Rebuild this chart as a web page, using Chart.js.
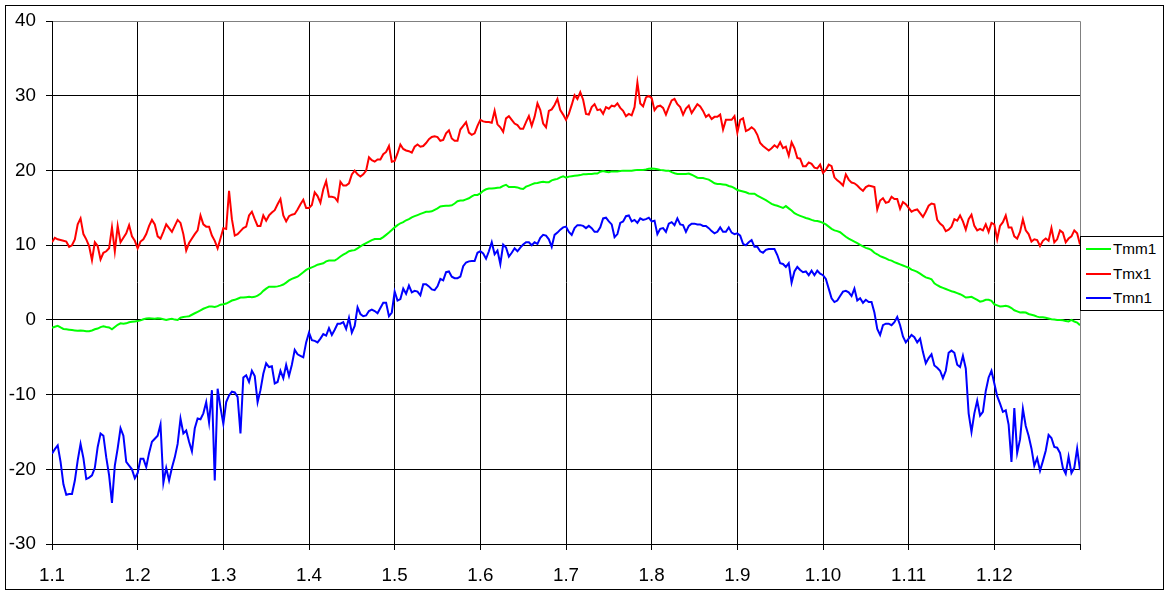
<!DOCTYPE html>
<html><head><meta charset="utf-8">
<script src="https://cdn.jsdelivr.net/npm/chart.js@4.4.1/dist/chart.umd.min.js"></script>
<style>
html,body{margin:0;padding:0;background:#fff;}
#wrap{position:relative;width:1169px;height:594px;overflow:hidden;background:#fff;}
#c{position:absolute;left:0;top:0;}
#legend{position:absolute;left:1080px;top:236px;width:82px;height:73px;border:1px solid #000;background:#fff;font-family:"Liberation Sans",Arial,sans-serif;font-size:15.3px;color:#000;}
.item{position:absolute;left:0;height:20px;width:82px;}
.item .ln{position:absolute;left:5px;width:25px;height:2px;top:9px;}
.item .tx{position:absolute;left:32px;top:0;line-height:20px;white-space:nowrap;}
</style></head>
<body><div id="wrap"><canvas id="c" width="1169" height="594"></canvas><div id="legend"></div></div>
<script>
// x tick labels (every 30 days)
const xTickLabels = ['1.1','1.2','1.3','1.4','1.5','1.6','1.7','1.8','1.9','1.10','1.11','1.12'];
const yTicks = [-30,-20,-10,0,10,20,30,40];
const seriesNames = ['Tmm1','Tmx1','Tmn1'];
const seriesColors = ['#00FF00','#FF0000','#0000FF'];

const Tmm1 = [
-1.05,-0.9,-0.78,-1,-1.2,-1.25,-1.3,-1.35,-1.4,-1.45,
-1.4,-1.45,-1.5,-1.5,-1.4,-1.25,-1.15,-0.95,-0.85,-0.95,
-1.0,-1.25,-0.95,-0.65,-0.45,-0.5,-0.45,-0.3,-0.25,-0.2,
-0.15,-0.05,0.1,0.2,0.22,0.2,0.18,0.22,0.2,0.1,
0,0.1,0.15,0.05,0,0.3,0.4,0.45,0.5,0.7,
0.9,1.1,1.3,1.5,1.65,1.8,1.8,1.75,1.85,2.05,
2.1,2.2,2.4,2.6,2.7,2.85,3.0,3.0,3.05,3.1,
3.05,3.1,3.25,3.5,3.9,4.2,4.45,4.45,4.45,4.5,
4.6,4.75,5.0,5.3,5.5,5.65,5.8,6.1,6.4,6.7,
6.9,7.05,7.2,7.4,7.5,7.6,7.85,7.95,7.95,7.95,
8.2,8.5,8.75,8.95,9.2,9.3,9.35,9.6,9.85,10.1,
10.3,10.5,10.7,10.85,10.85,10.85,11.1,11.4,11.7,12.05,
12.4,12.7,12.95,13.1,13.35,13.5,13.75,13.9,14.05,14.2,
14.35,14.5,14.5,14.55,14.75,14.95,15.2,15.25,15.3,15.3,
15.35,15.6,15.9,16.0,16.0,16.15,16.3,16.55,16.75,16.75,
16.95,17.3,17.5,17.6,17.6,17.65,17.7,17.75,17.95,18.1,
17.8,17.8,17.8,17.75,17.6,17.55,17.85,18.0,18.15,18.3,
18.35,18.45,18.5,18.45,18.45,18.7,18.8,18.9,19.1,19.25,
19.05,19.2,19.25,19.3,19.35,19.4,19.5,19.5,19.55,19.55,
19.6,19.6,19.85,19.95,19.85,19.8,19.9,19.9,19.9,19.95,
20,20,20,20,20.05,20.1,20.1,20.1,20.15,20.25,
20.3,20.25,20.2,20.1,20.05,20,20,19.8,19.65,19.55,
19.55,19.55,19.55,19.6,19.45,19.25,19.05,19,19,18.9,
18.8,18.55,18.3,18.2,18.2,18.15,18.1,17.95,17.85,17.65,
17.4,17.3,17.2,17.1,16.95,16.9,16.9,16.65,16.45,16.25,
16.05,15.8,15.55,15.4,15.3,15.15,15.0,15.25,14.95,14.65,
14.3,14.1,13.95,13.8,13.65,13.55,13.4,13.3,13.25,13.15,
13.0,12.8,12.5,12.2,12.0,11.9,11.75,11.45,11.15,10.9,
10.7,10.5,10.3,10.05,9.85,9.65,9.55,9.35,9.0,8.8,
8.55,8.4,8.25,8.05,7.95,7.75,7.6,7.45,7.3,7.15,
7.0,6.75,6.6,6.45,6.2,5.95,5.7,5.6,5.45,4.9,
4.65,4.45,4.3,4.15,4.0,3.85,3.75,3.6,3.45,3.25,
3.0,3.05,3.1,2.9,2.7,2.45,2.55,2.7,2.7,2.55,
2.1,1.95,1.8,1.85,1.9,1.8,1.6,1.3,1.15,1.0,
1.05,1.0,0.8,0.7,0.6,0.45,0.35,0.35,0.3,0.2,
0.1,0.05,0.0,0.0,-0.05,-0.15,-0.2,0.0,-0.2,-0.35,
-0.7];

const Tmx1 = [
10.4,11,10.8,10.7,10.6,10.5,9.8,10,10.8,12.8,
13.6,11.5,10.8,9.9,8,10.4,9.9,8.1,9,9.2,
9.6,12.4,9.2,12.6,10.4,11,11.6,12.7,11.2,10.6,
9.6,10.5,10.8,11.5,12.6,13.4,12.8,11.2,10.9,11.8,
12.8,12.3,11.8,12.6,13.4,13,11.5,9.3,10.3,10.9,
11.5,12,14,12.8,12.5,12.5,11.3,10.6,9.6,10.9,
12.3,12.2,17.3,13.5,11.3,11.5,11.9,12.3,12.5,14,
14.5,13.5,12.6,12.6,14,13.3,14,14.4,14.7,15.5,
16.2,14,13.2,13.9,14.1,14.2,14.8,15.5,16.1,15,
15,15.4,17.1,16.6,15.7,17.5,18.6,16.5,16.5,16.4,
15.9,18.5,18,18,18.3,19.5,20,19.5,19.2,19.5,
20,21.8,21.4,21.2,21.5,21.5,22.2,22.5,23.3,21.2,
21.3,22.3,23.5,22.9,22.7,22.6,22.4,23.2,23.5,23.2,
23.3,23.7,24.2,24.5,24.6,24.5,24,24.1,25,25.4,
24.3,24,24,25.5,26,26.5,25.1,24.8,25,26,
26.8,26.6,26.5,26.5,26.4,28,26.2,25.8,25.2,27,
27.3,26.8,26.3,26.1,25.6,25.6,26.5,27.3,26,27.2,
29,28.1,26.3,25.8,28,28.2,28.8,29.6,28.1,27.5,
26.8,27.6,28.8,30.1,29.6,30.5,29.5,27.6,27.5,28.5,
28.9,28.1,28.2,27.6,28.5,28.3,28.7,28.6,29,28.4,
28,27.3,27.6,27.4,28.5,31.8,29,28.6,29.8,30,
29.7,28.1,28.6,28.7,28.4,27.5,28.5,29.4,29.6,28.9,
28.5,27.5,28.3,28.7,27.7,28.3,28.9,28.6,28,27.2,
27.5,26.9,27.2,27.2,27.5,25.5,26.8,26.8,26.8,27.3,
25.1,26.8,27,25.3,25.5,25.8,25.5,24.8,23.7,23.3,
23,22.7,23,23.4,23.1,23.8,23,23.2,22,23.8,
23,21.7,21.6,20.6,20.6,21.1,20.9,20.4,20.3,20.8,
19.7,20.1,20.8,20.6,19.1,18.7,18.4,18,19.5,18.8,
18.4,18.3,18,17.6,17.3,17.8,18,17.9,17.8,14.8,
16,16.3,15.7,15.8,16.5,16.2,16.2,14.9,15.8,15.5,
15,14.5,14.7,14.8,14.3,13.8,14.5,15.3,15.6,15.5,
13.4,12.9,12.6,11.9,12.1,12.5,13.5,13.3,14,13.2,
12.1,13.5,14.1,12.6,12,12.2,12,12.8,11.8,13,
12.8,10.8,12.6,13.1,14,12.4,12.4,11.2,10.9,11.8,
13.5,12,11.5,10.5,10.8,10.7,9.9,10.6,10.9,10.6,
12.3,10.4,10.8,12,11.7,10.4,10.9,11.2,12,11.6,
10.1];

const Tmn1 = [
-17.9,-17.3,-16.8,-19,-22,-23.4,-23.3,-23.3,-21.5,-18.8,
-16.6,-18.5,-21.3,-21.1,-20.8,-19.8,-17,-15.2,-15.5,-18.4,
-20.8,-24.5,-19.5,-17.2,-14.5,-15.5,-19,-19.5,-20,-21.2,
-20.5,-18.6,-18.6,-19.7,-17.8,-16.3,-15.9,-15.5,-14,-21.8,
-19.8,-21.5,-19.8,-18.4,-16.6,-13.2,-15.2,-14.8,-16.3,-17.6,
-14.5,-13.2,-13.3,-12.5,-11,-13.7,-9.4,-21.5,-9.2,-11.7,
-13.9,-11,-10.1,-9.6,-9.7,-10.3,-15.2,-7.7,-7.4,-8.3,
-6.8,-7.5,-11,-9.4,-7.2,-5.8,-6.3,-6.2,-8.5,-8.3,
-6.8,-7.8,-6,-7.5,-6,-4,-4.6,-4.8,-5,-3,
-1.7,-2.7,-2.8,-3,-2.5,-1.9,-2.1,-1.1,-2,-1.3,
-0.5,-0.5,-0.3,-1.2,0.3,-1.7,-0.8,1.7,0.8,0.5,
0.6,1.2,1.4,1.2,0.9,1.6,2.3,2.3,0.5,1.0,
3.8,2.6,2.8,4.2,3.5,4.6,3.7,3.9,3.8,3.3,
4.8,4.8,4.5,4.1,4.0,4.5,5.5,5.3,6.4,6.5,
5.8,5.6,5.6,5.8,7.2,7.7,7.85,7.9,7.9,9,
9.2,8.9,8.2,9.2,10.4,8.8,9.3,7.5,10.1,9.7,
8.5,9,9.6,9.2,9.7,10.1,10.4,10.4,10,10.4,
10.2,11,11.4,11.3,10.8,9.8,11.4,11.7,12.1,12.4,
12.5,11.8,11.4,12.3,12.7,12.7,12.6,12.3,12.6,12.3,
11.8,11.8,12.4,13.6,13.7,13.2,12.8,11.1,11.5,13,
13.2,13.9,14,13.2,13.4,13,13.6,13.4,13.5,13.7,
13.2,13.3,11.5,12.2,12.3,11.8,12.9,13.1,12.7,13.6,
12.8,12.7,11.8,12.6,12.9,12.9,12.8,12.8,12.6,12.6,
12.3,11.9,11.6,11.8,12.4,11.8,11.8,12.4,11.7,11.5,
11.6,11.3,10.2,10,10.4,10.7,9.8,9.8,9.2,9,
9.4,9.5,9.5,9.5,8.7,7.6,7.5,7.1,7.6,5,
6.5,7.1,6.7,6.4,6.5,6,6.6,6,6.6,6.2,
6,5.5,4.2,2.9,2.4,2.6,3.2,3.8,3.9,3.7,
3.2,4.2,2.6,2.9,2.3,2.7,2.4,2.4,1,-1.2,
-2,-0.7,-0.5,-0.5,-0.7,-0.3,0.4,-0.7,-2.2,-3,
-2.5,-2.0,-2.3,-3,-2.5,-4.3,-5.8,-5.1,-4.6,-6.1,
-6.4,-6.8,-7.8,-6.8,-4.4,-4.1,-4.4,-6,-6.3,-4.8,
-6.5,-12.5,-15,-12.5,-10.8,-12.8,-12.3,-9.5,-7.7,-6.8,
-8.5,-10.2,-11.2,-12.3,-12.1,-14,-19,-11.8,-17.8,-16,
-11.9,-14.2,-15.5,-17.2,-19.5,-18.5,-20.2,-18.9,-17.5,-15.4,
-15.8,-17,-17.1,-17.8,-19.8,-20.6,-18.3,-20.5,-19.8,-17.2,
-20.1];

const FONT = '"Liberation Sans", Arial, sans-serif';
const allSeries = [Tmm1, Tmx1, Tmn1];
const lastDay = Tmm1.length - 1;
const yTop = yTicks[yTicks.length - 1];

const datasets = allSeries.map((arr, k) => ({
  label: seriesNames[k],
  data: arr.map((v, i) => ({x: i, y: v})),
  borderColor: seriesColors[k],
  backgroundColor: seriesColors[k],
  borderWidth: 2,
  pointRadius: 0,
  tension: 0,
  fill: false
}));

const outerBorder = {
  id: 'outerBorder',
  afterDraw(chart) {
    const ctx = chart.ctx;
    ctx.save();
    ctx.strokeStyle = '#000';
    ctx.lineWidth = 1;
    ctx.strokeRect(5.5, 5.5, 1158, 584);
    ctx.restore();
  }
};

new Chart(document.getElementById('c'), {
  type: 'line',
  data: { datasets },
  plugins: [outerBorder],
  options: {
    responsive: false,
    animation: false,
    devicePixelRatio: 1,
    layout: { padding: { left: 0, top: 21, right: 89, bottom: 10 } },
    plugins: { legend: { display: false }, tooltip: { enabled: false } },
    scales: {
      x: {
        type: 'linear', min: 0, max: lastDay,
        afterFit(s) { s.height = 40; },
        ticks: {
          stepSize: 30, autoSkip: false, maxRotation: 0, minRotation: 0,
          padding: 15, color: '#000',
          font: { family: FONT, size: 18.8 },
          callback: (v) => (xTickLabels[v / 30] !== undefined ? xTickLabels[v / 30] : '')
        },
        grid: {
          color: (ctx) => (ctx.tick && ctx.tick.value === lastDay ? '#808080' : '#000'),
          tickColor: '#000', tickLength: 6, lineWidth: 1
        },
        border: { color: '#000', width: 1 }
      },
      y: {
        min: yTicks[0], max: yTop,
        afterFit(s) { s.width = 52; },
        afterBuildTicks(s) { s.ticks = yTicks.map(v => ({ value: v })); },
        ticks: {
          padding: 10, color: '#000',
          font: { family: FONT, size: 18.8 },
          callback: (v) => String(v)
        },
        grid: {
          color: (ctx) => (ctx.tick && ctx.tick.value === yTop ? '#808080' : '#000'),
          tickColor: '#000', tickLength: 6, lineWidth: 1
        },
        border: { color: '#000', width: 1 }
      }
    }
  }
});

// HTML legend
const lg = document.getElementById('legend');
const rowTops = [2, 27, 51];
seriesNames.forEach((n, k) => {
  const it = document.createElement('div');
  it.className = 'item';
  it.style.top = rowTops[k] + 'px';
  const ln = document.createElement('span');
  ln.className = 'ln';
  ln.style.background = seriesColors[k];
  const tx = document.createElement('span');
  tx.className = 'tx';
  tx.textContent = n;
  it.appendChild(ln); it.appendChild(tx);
  lg.appendChild(it);
});
</script>
</body></html>
